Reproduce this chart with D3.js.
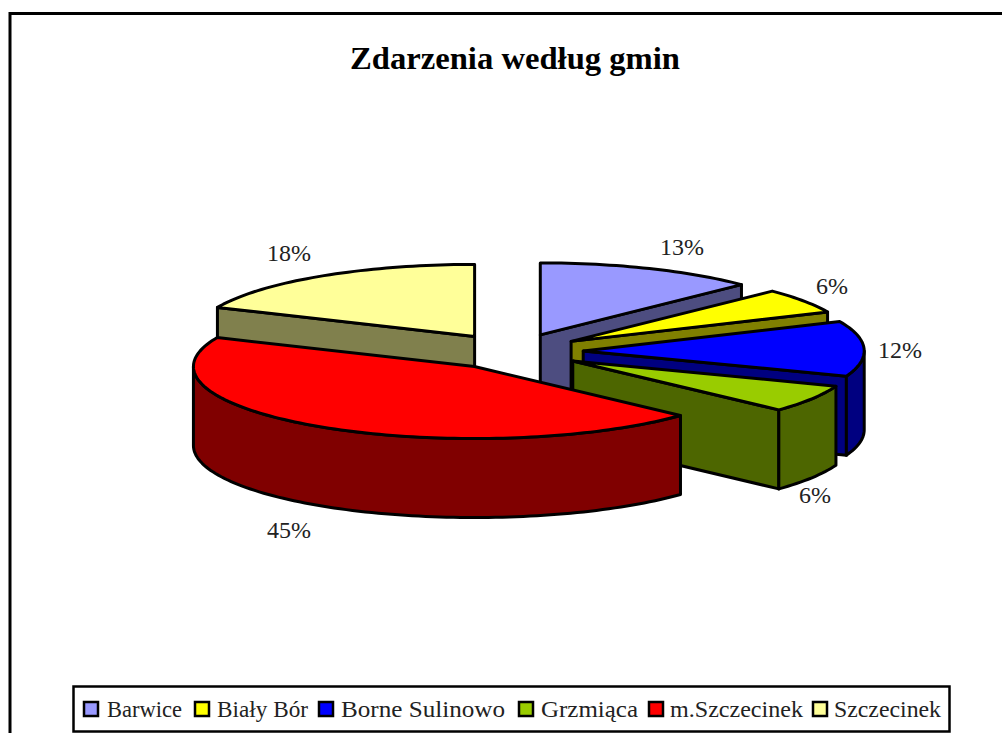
<!DOCTYPE html>
<html>
<head>
<meta charset="utf-8">
<title>Zdarzenia według gmin</title>
<script src="https://d3js.org/d3.v7.min.js"></script>
<style>
  html, body { margin: 0; padding: 0; background: #fff; overflow: hidden; }
  svg { display: block; }
  text { font-family: "Liberation Serif", serif; fill: #222; }
</style>
</head>
<body>
<script>
var categories = ["Barwice", "Biały Bór", "Borne Sulinowo", "Grzmiąca", "m.Szczecinek", "Szczecinek"];
// shares, labels show them rounded
var values = [12.7, 5.6, 12.4, 6.2, 44.7, 18.4];
var topColors = ["#9999ff", "#ffff00", "#0000ff", "#99cc00", "#ff0000", "#ffff99"];
var sideColors = ["#4d4d80", "#808000", "#000080", "#4d6600", "#800000", "#80804d"];
var labelPos = [[682, 247], [832, 286], [900, 350], [815, 495], [289, 530], [289, 253]];
var legendX = [[84, 107, 75], [195, 217, 91], [319, 341, 164], [519, 541, 97], [649, 670, 133], [813, 834, 107]];

var width = 1002, height = 733;
var cx = 513, cy = 351.5, rx = 281, ry = 72, depth = 79, explode = 0.25;

var svg = d3.select("body").append("svg")
    .attr("width", width)
    .attr("height", height);

// outer chart frame, runs off the bottom of the picture
svg.append("rect")
    .attr("x", 10).attr("y", 13.5)
    .attr("width", 1010).attr("height", 760)
    .attr("fill", "#fff").attr("stroke", "#000").attr("stroke-width", 3);

svg.append("text")
    .attr("x", 515).attr("y", 69)
    .attr("text-anchor", "middle")
    .attr("font-size", 31)
    .attr("font-weight", "bold")
    .attr("textLength", 330)
    .attr("lengthAdjust", "spacingAndGlyphs")
    .style("fill", "#000")
    .text("Zdarzenia według gmin");

var pie = d3.pie().sort(null)(values);

// t runs clockwise from 12 o'clock, same as d3.pie
function pt(c, t, dy) {
  return [c[0] + rx * Math.sin(t), c[1] - ry * Math.cos(t) + (dy || 0)];
}
function arcPts(c, a, b, dy) {
  var n = Math.max(2, Math.ceil((b - a) * 40));
  return d3.range(n + 1).map(function(i) { return pt(c, a + (b - a) * i / n, dy); });
}
var line = d3.line();

var slices = pie.map(function(d, i) {
  var mid = (d.startAngle + d.endAngle) / 2;
  return {
    i: i,
    a: d.startAngle,
    b: d.endAngle,
    c: [cx + explode * rx * Math.sin(mid), cy - explode * ry * Math.cos(mid)]
  };
});

// back to front
var drawOrder = [0, 5, 1, 2, 3, 4];
var g = svg.append("g")
    .attr("stroke", "#000")
    .attr("stroke-width", 3)
    .attr("stroke-linejoin", "round");

drawOrder.forEach(function(k) {
  var s = slices[k];
  var side = sideColors[k];

  function radial(t) {
    var e = pt(s.c, t);
    g.append("path")
        .attr("fill", side)
        .attr("d", line([s.c, e, [e[0], e[1] + depth], [s.c[0], s.c[1] + depth]]) + "Z");
  }
  if (s.b < Math.PI) radial(s.b);
  if (s.a > Math.PI) radial(s.a);

  // outer wall, only the front half of the rim shows
  var w0 = Math.max(s.a, Math.PI / 2), w1 = Math.min(s.b, Math.PI * 1.5);
  if (w1 > w0) {
    var top = arcPts(s.c, w0, w1);
    var bot = arcPts(s.c, w0, w1, depth).reverse();
    g.append("path")
        .attr("fill", side)
        .attr("d", line(top.concat(bot)) + "Z");
  }

  g.append("path")
      .attr("fill", topColors[k])
      .attr("d", line([s.c].concat(arcPts(s.c, s.a, s.b))) + "Z");
});

// data labels
svg.selectAll(".pct")
    .data(values)
    .enter().append("text")
    .attr("class", "pct")
    .attr("x", function(d, i) { return labelPos[i][0]; })
    .attr("y", function(d, i) { return labelPos[i][1] + 8; })
    .attr("text-anchor", "middle")
    .attr("font-size", 24)
    .text(function(d) { return Math.round(d) + "%"; });

// legend
svg.append("rect")
    .attr("x", 73.5).attr("y", 686.5)
    .attr("width", 876).attr("height", 45)
    .attr("fill", "#fff").attr("stroke", "#000").attr("stroke-width", 2.5);

var leg = svg.selectAll(".leg")
    .data(categories)
    .enter().append("g")
    .attr("class", "leg");

leg.append("rect")
    .attr("x", function(d, i) { return legendX[i][0]; })
    .attr("y", 702)
    .attr("width", 14).attr("height", 14)
    .attr("fill", function(d, i) { return topColors[i]; })
    .attr("stroke", "#000").attr("stroke-width", 2.5);

leg.append("text")
    .attr("x", function(d, i) { return legendX[i][1]; })
    .attr("y", 717)
    .attr("font-size", 23)
    .attr("textLength", function(d, i) { return legendX[i][2]; })
    .attr("lengthAdjust", "spacingAndGlyphs")
    .text(function(d) { return d; });
</script>
</body>
</html>
